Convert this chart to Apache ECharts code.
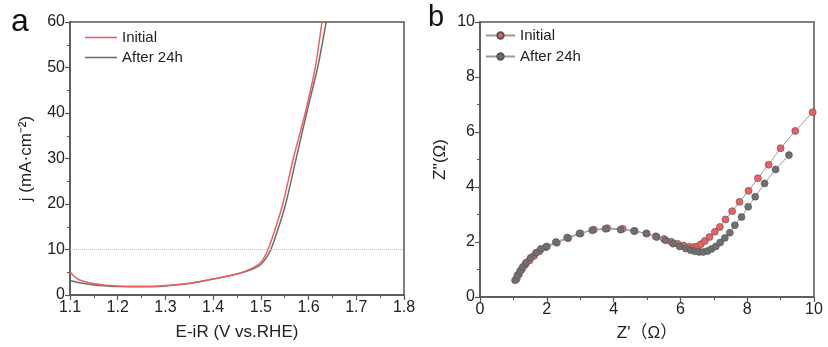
<!DOCTYPE html>
<html>
<head>
<meta charset="utf-8">
<script src="https://cdn.jsdelivr.net/npm/echarts@6/dist/echarts.min.js"></script>
<style>
html,body{margin:0;padding:0;background:#fff;}
#chart{width:828px;height:347px;}
</style>
</head>
<body>
<div id="chart"></div>
<script>
// ---- Panel a: LSV curves (E-iR, j) ----
const lsvInitial = [
  [1.100, 5.2], [1.105, 4.5], [1.110, 4.0], [1.120, 3.3], [1.140, 2.7], [1.160, 2.35],
  [1.180, 2.1], [1.200, 2.0], [1.250, 1.9], [1.300, 2.1], [1.350, 2.6], [1.400, 3.5],
  [1.450, 4.6], [1.480, 5.8], [1.500, 7.2], [1.515, 10.0], [1.530, 14.5], [1.546, 20.0],
  [1.568, 30.0], [1.593, 40.0], [1.614, 50.0], [1.628, 60.0]
];
const lsvAfter = [
  [1.100, 3.2], [1.120, 2.7], [1.150, 2.2], [1.180, 1.95], [1.200, 1.85], [1.250, 1.8],
  [1.300, 2.0], [1.350, 2.5], [1.400, 3.5], [1.450, 4.6], [1.480, 5.6], [1.500, 6.7],
  [1.520, 9.8], [1.536, 14.5], [1.552, 20.0], [1.574, 30.0], [1.596, 40.0], [1.619, 50.0],
  [1.637, 60.0]
];
const lsvRefLine = 10;
const lsvXTicks = [1.1, 1.8, 0.1];   // min, max, step
const lsvYTicks = [0, 60, 10];

// ---- Panel b: Nyquist plots (Z', Z'') ----
const eisInitial = [
  [1.10,0.66],[1.17,0.83],[1.25,1.00],[1.35,1.17],[1.48,1.33],[1.62,1.50],[1.78,1.66],
  [1.97,1.81],[2.30,1.97],[2.64,2.14],[3.01,2.31],[3.41,2.45],[3.81,2.50],[4.27,2.48],
  [4.63,2.40],[4.99,2.31],[5.26,2.21],[5.51,2.11],[5.73,2.01],[5.91,1.94],[6.09,1.87],
  [6.26,1.83],[6.41,1.82],[6.51,1.84],[6.61,1.92],[6.73,2.04],[6.87,2.18],[7.03,2.37],
  [7.18,2.55],[7.35,2.82],[7.55,3.12],[7.77,3.46],[8.04,3.86],[8.32,4.32],[8.64,4.81],
  [9.00,5.41],[9.44,6.04],[9.96,6.72]
];
const eisAfter = [
  [1.05,0.61],[1.12,0.79],[1.20,0.95],[1.28,1.09],[1.38,1.25],[1.52,1.43],[1.68,1.61],
  [1.82,1.75],[2.00,1.84],[2.27,2.00],[2.61,2.16],[2.98,2.31],[3.36,2.43],[3.76,2.48],
  [4.21,2.45],[4.61,2.40],[4.98,2.31],[5.29,2.18],[5.56,2.06],[5.78,1.94],[5.98,1.84],
  [6.16,1.76],[6.31,1.70],[6.44,1.66],[6.56,1.64],[6.68,1.64],[6.81,1.67],[6.93,1.75],
  [7.06,1.84],[7.19,1.98],[7.33,2.15],[7.48,2.34],[7.63,2.61],[7.83,2.91],[8.03,3.28],
  [8.24,3.65],[8.52,4.13],[8.85,4.64],[9.25,5.16]
];
const eisXTicks = [0, 10, 2];
const eisYTicks = [0, 10, 2];

const seriesNames = ['Initial', 'After 24h'];
const panelLabels = ['a', 'b'];

const FONT = '"Liberation Sans", Arial, "Noto Sans CJK SC", sans-serif';
const AX = '#555';
const RED = '#ef5f62';
const GRAY = '#6f6f6f';

function axisCommon(t, decimals) {
  return {
    type: 'value', min: t[0], max: t[1], interval: t[2],
    axisLine: { show: true, onZero: false, lineStyle: { color: AX, width: 1.5 } },
    axisTick: { show: true, inside: false, length: 5, lineStyle: { color: AX, width: 1.2 } },
    minorTick: { show: true, splitNumber: 2, length: 3, lineStyle: { color: AX, width: 1 } },
    splitLine: { show: false },
    axisLabel: {
      color: '#222', fontSize: 16, fontFamily: FONT, margin: 5,
      formatter: v => Number(v).toFixed(decimals)
    },
    nameLocation: 'middle',
    nameTextStyle: { color: '#222', fontSize: 17, fontFamily: FONT }
  };
}

const chart = echarts.init(document.getElementById('chart'), null, { renderer: 'canvas' });

const option = {
  backgroundColor: '#fff',
  animation: false,
  textStyle: { fontFamily: FONT },
  grid: [
    { left: 70, right: 424, top: 22, bottom: 52, show: true, borderColor: AX, borderWidth: 1.5, backgroundColor: 'transparent' },
    { left: 480, right: 14, top: 22, bottom: 50, show: true, borderColor: AX, borderWidth: 1.5, backgroundColor: 'transparent' }
  ],
  xAxis: [
    Object.assign(axisCommon(lsvXTicks, 1), { gridIndex: 0, name: 'E-iR (V vs.RHE)', nameGap: 29 }),
    Object.assign(axisCommon(eisXTicks, 0), { gridIndex: 1, name: 'Z\'（Ω）', nameGap: 28 })
  ],
  yAxis: [
    Object.assign(axisCommon(lsvYTicks, 0), { gridIndex: 0, name: 'j (mA·cm⁻²)', nameGap: 35 }),
    Object.assign(axisCommon(eisYTicks, 0), { gridIndex: 1, name: 'Z\'\'(Ω)', nameGap: 31 })
  ],
  legend: [
    {
      data: seriesNames.map(n => ({ name: n, icon: 'rect' })), left: 80, top: 25, orient: 'vertical',
      itemWidth: 32, itemHeight: 1.6, itemGap: 5,
      textStyle: { fontSize: 15, color: '#222', fontFamily: FONT },
      formatter: n => n.trim()
    },
    {
      data: seriesNames.map(n => n + ' '), left: 480, top: 23, orient: 'vertical',
      itemWidth: 29, itemHeight: 8, itemGap: 6,
      textStyle: { fontSize: 15, color: '#222', fontFamily: FONT },
      formatter: n => n.trim()
    }
  ],
  graphic: [
    { type: 'text', left: 11, top: 6, style: { text: panelLabels[0], font: '32px ' + FONT, fill: '#111' } },
    { type: 'text', left: 428, top: 3, style: { text: panelLabels[1], font: '29px ' + FONT, fill: '#111' } }
  ],
  series: [
    {
      name: seriesNames[0], type: 'line', xAxisIndex: 0, yAxisIndex: 0,
      data: lsvInitial, smooth: 0.25, showSymbol: false, symbol: 'none',
      lineStyle: { color: RED, width: 1.5 }, itemStyle: { color: RED }, z: 3,
      markLine: {
        silent: true, symbol: ['none', 'none'], label: { show: false },
        lineStyle: { type: 'dotted', color: '#bdbdbd', width: 1 },
        data: [{ yAxis: lsvRefLine }]
      }
    },
    {
      name: seriesNames[1], type: 'line', xAxisIndex: 0, yAxisIndex: 0,
      data: lsvAfter, smooth: 0.25, showSymbol: false, symbol: 'none',
      lineStyle: { color: GRAY, width: 1.5 }, itemStyle: { color: GRAY }, z: 2
    },
    {
      name: seriesNames[0] + ' ', type: 'line', xAxisIndex: 1, yAxisIndex: 1,
      data: eisInitial, symbol: 'circle', symbolSize: 7,
      lineStyle: { color: '#9a9a9a', width: 1 },
      itemStyle: { color: RED, borderColor: '#555', borderWidth: 0.6 }, z: 2
    },
    {
      name: seriesNames[1] + ' ', type: 'line', xAxisIndex: 1, yAxisIndex: 1,
      data: eisAfter, symbol: 'circle', symbolSize: 7,
      lineStyle: { color: '#9a9a9a', width: 1 },
      itemStyle: { color: GRAY, borderColor: '#555', borderWidth: 0.6 }, z: 3
    }
  ]
};
chart.setOption(option);
</script>
</body>
</html>
